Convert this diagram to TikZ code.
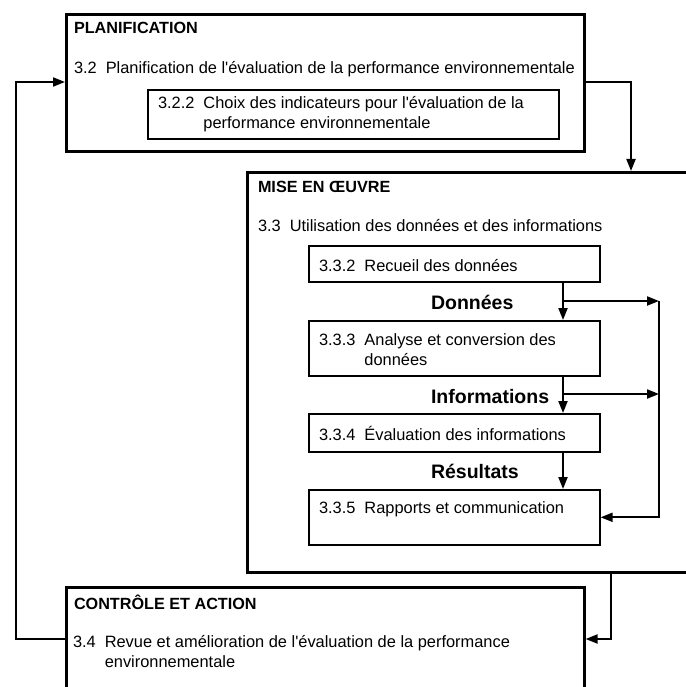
\documentclass[tikz,border=0pt]{standalone}
\usepackage{fontspec}
\setmainfont{Liberation Sans}
\usetikzlibrary{arrows.meta}

\begin{document}
\begin{tikzpicture}[x=1pt, y=-1pt, >={Triangle[length=12pt, width=9pt]}, line width=2pt,
    bigbox/.style={draw, line width=2.6pt, anchor=north west, inner sep=0pt},
    smallbox/.style={draw, line width=1.6pt, anchor=north west, inner sep=0pt, minimum width=291pt},
    txt/.style={anchor=base west, inner sep=0pt, font=\fontsize{16.4}{20}\selectfont},
    head/.style={txt, font=\fontsize{16.2}{20}\selectfont\bfseries},
    flow/.style={anchor=base west, inner sep=0pt, font=\fontsize{19.5}{22}\selectfont\bfseries}]
    \useasboundingbox (0,0) rectangle (685,687);

    % planification
    \node [bigbox, minimum width=518pt, minimum height=137pt] (plan) at (65,13) {};
    \node [head] (plantitle) at (73,34) {PLANIFICATION};
    \node [txt] (plantext) at (73,74) {3.2\hspace{9pt}Planification de l\textquotesingle évaluation de la performance environnementale};
    \node [smallbox, minimum width=411pt, minimum height=49pt] (choix) at (147,89) {};
    \node [txt] (choixtext) at (157,108.5) {\begin{tabular}[t]{@{}l@{\hspace{9pt}}l@{}}3.2.2 & Choix des indicateurs pour l\textquotesingle évaluation de la\\ & performance environnementale\end{tabular}};

    % mise en oeuvre
    \node [bigbox, minimum width=464pt, minimum height=400pt] (mise) at (246,171) {};
    \node [head] (misetitle) at (257,193) {MISE EN ŒUVRE};
    \node [txt] (misetext) at (257,231) {3.3\hspace{9pt}Utilisation des données et des informations};
    \node [smallbox, minimum height=36pt] (recueil) at (308,245) {};
    \node [txt] (recueiltext) at (318,271) {3.3.2\hspace{9pt}Recueil des données};
    \node [smallbox, minimum height=55pt] (analyse) at (308,320) {};
    \node [txt] (analysetext) at (318,345) {\begin{tabular}[t]{@{}l@{\hspace{9pt}}l@{}}3.3.3 & Analyse et conversion des\\ & données\end{tabular}};
    \node [smallbox, minimum height=38pt] (evaluation) at (308,413) {};
    \node [txt] (evaluationtext) at (318,440) {3.3.4\hspace{9pt}Évaluation des informations};
    \node [smallbox, minimum height=55pt] (rapports) at (308,489) {};
    \node [txt] (rapportstext) at (318,513) {3.3.5\hspace{9pt}Rapports et communication};
    \node [flow] (donnees) at (430,309) {Données};
    \node [flow] (informations) at (430,403) {Informations};
    \node [flow] (resultats) at (430,478) {Résultats};

    % controle et action
    \node [bigbox, minimum width=518pt, minimum height=134pt] (controle) at (65,586) {};
    \node [head] (controletitle) at (73,609) {CONTRÔLE ET ACTION};
    \node [txt] (controletext) at (72,647) {\begin{tabular}[t]{@{}l@{\hspace{9pt}}l@{}}3.4 & Revue et amélioration de l\textquotesingle évaluation de la performance\\ & environnementale\end{tabular}};

    % flux internes
    \coordinate (flowx) at (563,0);
    \coordinate (busx) at (659,0);
    \coordinate (don) at (563,301);
    \coordinate (inf) at (563,394);
    \draw [->] (recueil.south -| flowx) -- (analyse.north -| flowx);
    \draw [->] (analyse.south -| flowx) -- (evaluation.north -| flowx);
    \draw [->] (evaluation.south -| flowx) -- (rapports.north -| flowx);
    \draw [->] (don) -- (don -| busx);
    \draw [->] (inf) -- (inf -| busx);
    \draw [->] (don -| busx) |- (rapports.east);

    % cycle
    \coordinate (upl) at (16,82);
    \coordinate (lowl) at (16,639);
    \coordinate (upr) at (631,82);
    \coordinate (lowr) at (611,639);
    \draw [->] (lowl -| controle.west) -- (lowl) -- (upl) -- (upl -| plan.west);
    \draw [->] (upl -| plan.east) -- (upr) -- (upr |- mise.north);
    \draw [->] (lowr |- mise.south) -- (lowr) -- (lowr -| controle.east);
\end{tikzpicture}
\end{document}
